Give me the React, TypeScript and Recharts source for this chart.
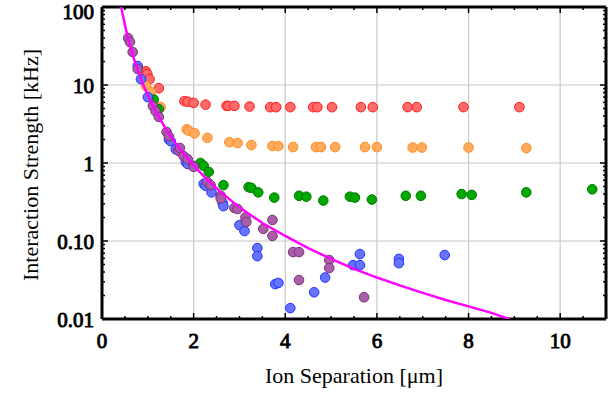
import React from "react";
import {
  ScatterChart,
  Scatter,
  XAxis,
  YAxis,
  ReferenceLine,
  Label,
} from "recharts";

// series: [ion separation µm, interaction strength kHz]
const redPts = [
  [0.96, 15], [0.99, 13.8], [1.04, 11.9], [1.24, 9.1], [1.8, 6.2], [1.87, 6.1],
  [2.0, 5.9], [2.26, 5.6], [2.72, 5.4], [2.76, 5.4], [2.89, 5.4], [3.22, 5.3],
  [3.67, 5.2], [3.8, 5.2], [4.11, 5.2], [4.61, 5.2], [4.7, 5.2], [5.02, 5.2],
  [5.65, 5.2], [5.91, 5.2], [6.67, 5.2], [6.87, 5.2], [7.89, 5.2], [9.11, 5.2],
];
const orangePts = [
  [0.96, 9.7], [1.07, 8.1], [1.28, 5.2], [1.85, 2.7], [1.89, 2.6], [2.02, 2.4],
  [2.3, 2.1], [2.78, 1.85], [2.96, 1.8], [3.26, 1.7], [3.72, 1.65], [3.85, 1.65],
  [4.17, 1.6], [4.67, 1.6], [4.78, 1.6], [5.09, 1.6], [5.74, 1.6], [6.0, 1.6],
  [6.78, 1.58], [6.98, 1.58], [8.0, 1.58], [9.26, 1.55],
];
const greenPts = [
  [1.13, 6.5], [1.24, 4.9], [2.15, 1.0], [2.22, 0.92], [2.33, 0.77], [2.65, 0.52],
  [3.2, 0.49], [3.26, 0.48], [3.41, 0.42], [3.76, 0.36], [4.3, 0.38], [4.46, 0.37],
  [4.83, 0.33], [5.41, 0.37], [5.52, 0.36], [5.89, 0.34], [6.63, 0.38], [6.96, 0.38],
  [7.85, 0.4], [8.07, 0.39], [9.26, 0.42], [10.7, 0.46],
];
const bluePts = [
  [0.78, 17.5], [0.85, 11.9], [1.0, 7.0], [1.46, 2.0], [1.5, 1.9], [1.61, 1.5],
  [1.83, 1.03], [1.87, 0.97], [2.22, 0.54], [2.26, 0.51], [2.39, 0.42], [2.63, 0.31],
  [2.65, 0.28], [3.0, 0.16], [3.11, 0.134], [3.39, 0.081], [3.39, 0.064], [3.78, 0.028],
  [3.85, 0.029], [4.11, 0.0138], [4.63, 0.022], [4.87, 0.034], [5.48, 0.049],
  [5.63, 0.068], [5.63, 0.049], [6.48, 0.059], [6.48, 0.052], [7.48, 0.066],
];
const purplePts = [
  [0.57, 40], [0.61, 35.6], [0.67, 26.5], [0.78, 16], [1.11, 5.4], [1.17, 4.6],
  [1.24, 3.9], [1.41, 2.5], [1.46, 2.2], [1.67, 1.43], [1.7, 1.56], [1.78, 1.23],
  [1.87, 1.12], [2.0, 0.92], [2.0, 0.89], [2.3, 0.57], [2.37, 0.52], [2.59, 0.38],
  [2.59, 0.35], [2.89, 0.265], [2.96, 0.257], [3.13, 0.2], [3.15, 0.175],
  [3.52, 0.143], [3.72, 0.186], [3.72, 0.116], [4.17, 0.072], [4.3, 0.072],
  [4.3, 0.0316], [4.96, 0.057], [4.96, 0.045], [5.72, 0.019],
];
// magenta guide curve, sampled by eye
const curvePts = [
  [0.42, 100], [0.45, 81], [0.5, 59], [0.55, 44], [0.6, 34], [0.65, 27], [0.7, 21.5],
  [0.8, 14.5], [0.9, 10.1], [1.0, 7.4], [1.1, 5.6], [1.2, 4.3], [1.3, 3.4], [1.4, 2.7],
  [1.6, 1.8], [1.8, 1.27], [2.0, 0.93], [2.3, 0.61], [2.6, 0.42], [3.0, 0.27],
  [3.5, 0.17], [4.0, 0.116], [4.5, 0.081], [5.0, 0.059], [5.5, 0.044], [6.0, 0.034],
  [6.5, 0.027], [7.0, 0.0216], [7.5, 0.0175], [8.0, 0.0145], [8.5, 0.012], [8.9, 0.0099],
];

const xTicks = [0, 0.5, 1, 1.5, 2, 2.5, 3, 3.5, 4, 4.5, 5, 5.5, 6, 6.5, 7, 7.5, 8, 8.5, 9, 9.5, 10, 10.5, 11];
const xMajor = [0, 2, 4, 6, 8, 10];
const yMajor = [0.01, 0.1, 1, 10, 100];
const yMinorMult = [2, 3, 4, 5, 6, 7, 8, 9];
const yTicks = yMajor.flatMap((d) => (d < 100 ? [d, ...yMinorMult.map((m) => +(d * m).toPrecision(3))] : [d]));
const yLabels: Record<string, string> = { "0.01": "0.01", "0.1": "0.10", "1": "1", "10": "10", "100": "100" };

const toObj = (pts: number[][]) => pts.map(([x, y]) => ({ x, y }));

const serif = { fontFamily: "Liberation Serif, Times New Roman, serif" };
// regular serif thickened with a stroke, reads like Times bold
const boldSerif = { ...serif, stroke: "#000", strokeWidth: 0.9 };

const isYMajor = (v: number) => yMajor.some((m) => Math.abs(m - v) < 1e-9);
const isXMajor = (v: number) => xMajor.includes(v);

const LeftTick = (props: any) => {
  const { x, y, payload } = props;
  const major = isYMajor(payload.value);
  return (
    <g>
      <line x1={x} x2={x + (major ? 6 : 3)} y1={y} y2={y} stroke="#000" strokeWidth={1.5} />
      {major && (
        <text x={x - 8} y={payload.value === 100 ? y + 5 : y + 1} textAnchor="end" dominantBaseline="central" style={boldSerif} fontSize={21} fill="#000">
          {yLabels[String(payload.value)]}
        </text>
      )}
    </g>
  );
};

const RightTick = (props: any) => {
  const { x, y, payload } = props;
  const major = isYMajor(payload.value);
  return <line x1={x} x2={x - (major ? 6 : 3)} y1={y} y2={y} stroke="#000" strokeWidth={1.5} />;
};

const BottomTick = (props: any) => {
  const { x, y, payload } = props;
  const major = isXMajor(payload.value);
  return (
    <g>
      <line x1={x} x2={x} y1={y} y2={y - (major ? 6 : 3)} stroke="#000" strokeWidth={1.5} />
      {major && (
        <text x={x} y={y + 22} textAnchor="middle" dominantBaseline="central" style={boldSerif} fontSize={21} fill="#000">
          {payload.value}
        </text>
      )}
    </g>
  );
};

const TopTick = (props: any) => {
  const { x, y, payload } = props;
  const major = isXMajor(payload.value);
  return <line x1={x} x2={x} y1={y} y2={y + (major ? 6 : 3)} stroke="#000" strokeWidth={1.5} />;
};

const dot = (fill: string, stroke: string) => (props: any) => (
  <circle cx={props.cx} cy={props.cy} r={4.8} fill={fill} stroke={stroke} strokeWidth={1} />
);

const frame = { stroke: "#000", strokeWidth: 3 };

export default function App() {
  return (
    <div style={{ position: "absolute", left: 0, top: 0, background: "#fff" }}>
      <ScatterChart width={616} height={393} margin={{ top: 6, right: 9, bottom: 73, left: 101 }}>
        <XAxis
          xAxisId="b"
          dataKey="x"
          type="number"
          domain={[0, 11]}
          ticks={xTicks}
          allowDataOverflow
          height={1}
          tickSize={0}
          tickMargin={0}
          tick={BottomTick}
          axisLine={frame}
          interval={0}
        >
          <Label
            content={() => (
              <text x={354} y={375} textAnchor="middle" dominantBaseline="central" style={serif} fontSize={22} fill="#000">
                Ion Separation [μm]
              </text>
            )}
          />
        </XAxis>
        <XAxis
          xAxisId="t"
          orientation="top"
          dataKey="x"
          type="number"
          domain={[0, 11]}
          ticks={xTicks}
          allowDataOverflow
          height={1}
          tickSize={0}
          tickMargin={0}
          tick={TopTick}
          axisLine={frame}
          interval={0}
        />
        <YAxis
          yAxisId="l"
          dataKey="y"
          type="number"
          scale="log"
          domain={[0.01, 100]}
          ticks={yTicks}
          allowDataOverflow
          width={1}
          tickSize={0}
          tickMargin={0}
          tick={LeftTick}
          axisLine={frame}
          interval={0}
        >
          <Label
            content={() => (
              <text x={30} y={165} textAnchor="middle" dominantBaseline="central" style={serif} fontSize={22} fill="#000" transform="rotate(-90 30 165)">
                Interaction Strength [kHz]
              </text>
            )}
          />
        </YAxis>
        <YAxis
          yAxisId="r"
          orientation="right"
          dataKey="y"
          type="number"
          scale="log"
          domain={[0.01, 100]}
          ticks={yTicks}
          allowDataOverflow
          width={1}
          tickSize={0}
          tickMargin={0}
          tick={RightTick}
          axisLine={frame}
          interval={0}
        />
        {xMajor.slice(1).map((v) => (
          <ReferenceLine key={"vx" + v} xAxisId="b" yAxisId="l" x={v} stroke="#c8c8c8" strokeWidth={1.2} />
        ))}
        {yMajor.slice(1, 4).map((v) => (
          <ReferenceLine key={"hy" + v} xAxisId="b" yAxisId="l" y={v} stroke="#c8c8c8" strokeWidth={1.2} />
        ))}
        <Scatter xAxisId="b" yAxisId="l" data={toObj(redPts)} shape={dot("#ff6b6b", "#ff1a1a")} isAnimationActive={false} />
        <Scatter xAxisId="b" yAxisId="l" data={toObj(orangePts)} shape={dot("#ffab5e", "#ff8a1a")} isAnimationActive={false} />
        <Scatter xAxisId="b" yAxisId="l" data={toObj(greenPts)} shape={dot("#00a800", "#007a00")} isAnimationActive={false} />
        <Scatter xAxisId="b" yAxisId="l" data={toObj(bluePts)} shape={dot("#6673ff", "#2233ff")} isAnimationActive={false} />
        <Scatter xAxisId="b" yAxisId="l" data={toObj(purplePts)} shape={dot("#a85fa8", "#7d2f7d")} isAnimationActive={false} />
        <Scatter
          xAxisId="b"
          yAxisId="l"
          data={toObj(curvePts)}
          line={{ stroke: "#ff00ff", strokeWidth: 2.5 }}
          lineType="joint"
          shape={() => null}
          isAnimationActive={false}
        />
      </ScatterChart>
    </div>
  );
}
